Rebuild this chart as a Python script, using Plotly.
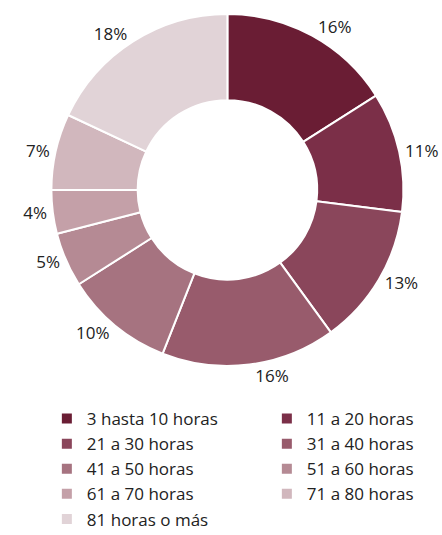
import plotly.graph_objects as go

categories = ["3 hasta 10 horas", "11 a 20 horas", "21 a 30 horas", "31 a 40 horas",
              "41 a 50 horas", "51 a 60 horas", "61 a 70 horas", "71 a 80 horas",
              "81 horas o más"]
values = [16, 11, 13, 16, 10, 5, 4, 7, 18]
colors = ["#6a1d34", "#7b2f48", "#8a465b", "#985b6c", "#a67380", "#b58a94",
          "#c4a0a8", "#d1b7bd", "#e1d3d7"]

fig = go.Figure(go.Pie(
    labels=categories,
    values=values,
    hole=0.51,
    sort=False,
    direction="clockwise",
    rotation=0,
    marker=dict(colors=colors, line=dict(color="white", width=2)),
    texttemplate="%{value}%",
    textposition="outside",
    textfont=dict(size=17, color="#222222"),
    domain=dict(x=[0.029, 1.0], y=[0.316, 0.974]),
))

fig.update_layout(
    width=442, height=535,
    margin=dict(l=0, r=0, t=0, b=0, autoexpand=False),
    paper_bgcolor="white",
    font=dict(family="Open Sans", size=17, color="#222222"),
    showlegend=True,
    legend=dict(orientation="h", x=0.106, xanchor="left", y=0.2505, yanchor="top",
                entrywidth=175, entrywidthmode="pixels",
                font=dict(size=17, color="#222222"), traceorder="normal"),
)

fig.write_html("out.html", config={"displayModeBar": False},
               post_script="document.body.style.margin='0';document.body.style.overflow='hidden';")
